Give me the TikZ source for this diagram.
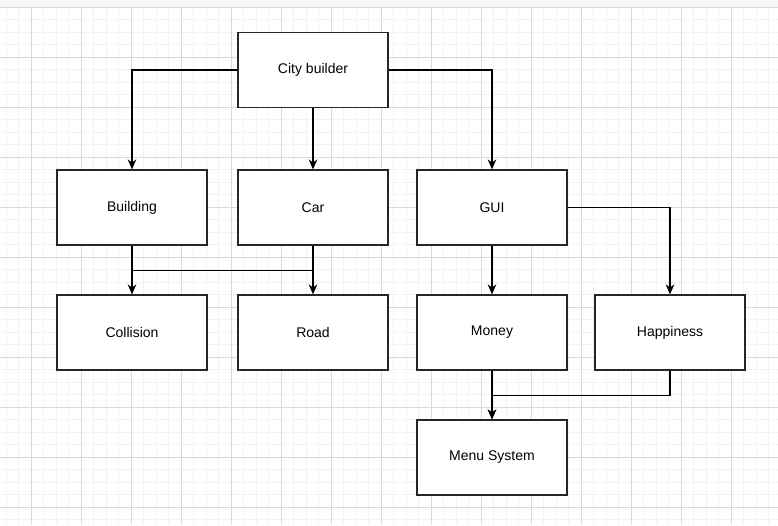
\documentclass[tikz,border=0pt]{standalone}
\usepackage{fontspec}
\setmainfont{Liberation Sans}
\usetikzlibrary{arrows.meta}
\definecolor{minorgrid}{HTML}{F2F2F2}
\definecolor{majorgrid}{HTML}{DADADA}
\definecolor{topbar}{HTML}{F5F6F8}
\begin{document}
\begin{tikzpicture}[x=0.75pt,y=-0.75pt,
  box/.style={draw=black!85,line width=1pt,fill=white,minimum width=112.5pt,minimum height=56.25pt,inner sep=0pt,font=\fontsize{10.5pt}{12pt}\selectfont},
  conn/.style={draw=black,line width=0.8pt},
  arr/.style={conn,-{Stealth[length=7.5pt,width=6.5pt]}}]
\useasboundingbox (0,0) rectangle (778,525);
\fill[white] (0,0) rectangle (778,525);
% minor grid
\foreach \i in {0,...,63} {\draw[minorgrid,line width=0.75pt] ({6+12.5*\i},8) -- ({6+12.5*\i},525);}
\foreach \j in {0,...,41} {\draw[minorgrid,line width=0.75pt] (0,{7+12.5*\j}) -- (778,{7+12.5*\j});}
% major grid
\foreach \i in {0,...,15} {\draw[majorgrid,line width=0.75pt] ({31+50*\i},8) -- ({31+50*\i},525);}
\foreach \j in {1,...,10} {\draw[majorgrid,line width=0.75pt] (0,{7+50*\j}) -- (778,{7+50*\j});}
% top bar
\fill[topbar] (0,0) rectangle (778,7);
\draw[majorgrid,line width=0.75pt] (0,7) -- (778,7);
% nodes
\node[box] (city) at (313,70) {City builder};
\node[box] (building) at (132,207.5) {Building};
\node[box] (car) at (313,207.5) {Car};
\node[box] (gui) at (492,207.5) {GUI};
\node[box] (collision) at (132,332.5) {Collision};
\node[box] (road) at (313,332.5) {Road};
\node[box] (money) at (492,332.5) {Money};
\node[box] (happy) at (670,332.5) {Happiness};
\node[box] (menu) at (492,457.5) {Menu System};
% connectors
\draw[arr] (city.west) -| (building.north);
\draw[arr] (city.south) -- (car.north);
\draw[arr] (city.east) -| (gui.north);
\draw[arr] (gui.east) -| (happy.north);
\draw[arr] (gui.south) -- (money.north);
\draw[arr] (building.south) -- (collision.north);
\draw[arr] (car.south) -- (road.north);
\draw[conn] (building.south) ++(0,25) coordinate (bj) -- (bj -| car.south);
\draw[arr] (money.south) -- (menu.north);
\draw[arr] (happy.south) |- ++(0,25) -| (menu.north);
\end{tikzpicture}
\end{document}
